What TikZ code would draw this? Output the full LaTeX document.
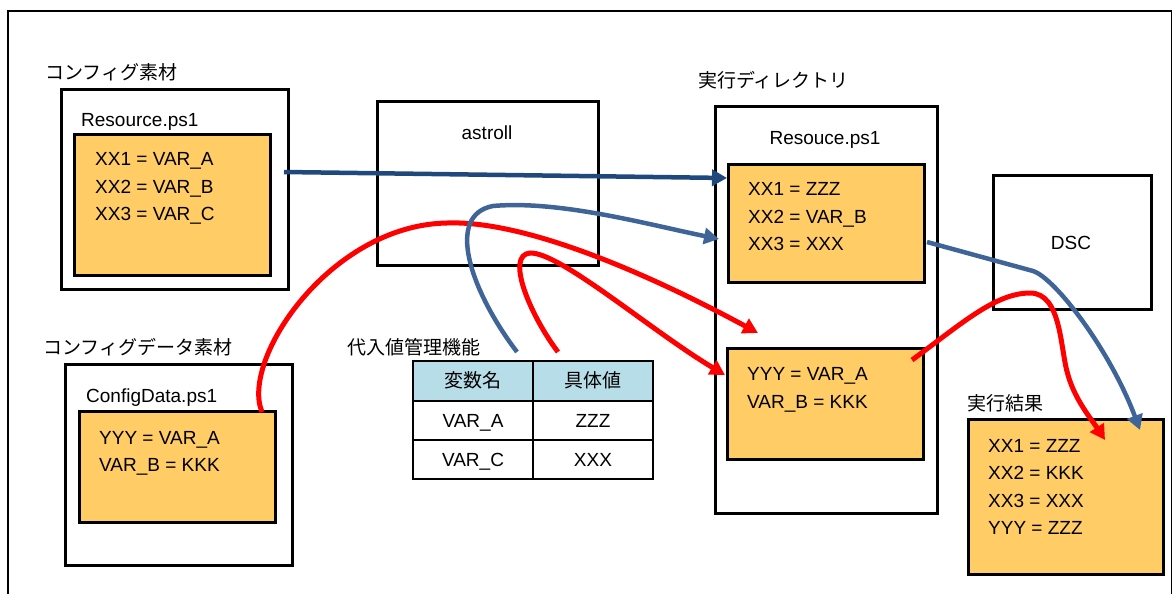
\documentclass[tikz,border=0pt]{standalone}
\usepackage{fontspec}
\setmainfont{Liberation Sans}
\newfontfamily\jpfont{Noto Sans CJK JP}
\usetikzlibrary{arrows.meta,calc,positioning}
\definecolor{paperorange}{HTML}{FFCC66}
\definecolor{headblue}{HTML}{B7DDE8}
\definecolor{darkblue}{HTML}{1F497D}
\definecolor{steelblue}{HTML}{3F6598}
\newcommand{\figfont}{\fontsize{19}{22}\selectfont}

\begin{document}
\begin{tikzpicture}[x=1pt,y=-1pt,
    box/.style={draw,line width=2.6pt,anchor=north west,inner sep=0pt},
    paper/.style={box,fill=paperorange},
    cell/.style={draw,line width=2.2pt,minimum width=120pt,minimum height=39pt,
        inner sep=0pt,outer sep=0pt,text height=13.6pt,text depth=0pt,font=\figfont},
    lbl/.style={anchor=base west,inner sep=0pt,font=\figfont},
    jlbl/.style={lbl,font=\figfont\jpfont},
    tip/.style={-{Triangle[length=15pt,width=16pt]}},
    blueline/.style={tip,draw=darkblue,line width=4.5pt},
    steelline/.style={tip,draw=steelblue,line width=4.5pt},
    redline/.style={tip,draw=red,line width=5pt}]
    \clip (0,0) rectangle (1172,594);
    \draw[line width=2pt] (8,11) rectangle (1172,610);

    % config material
    \node[jlbl] (cfglbl) at (45,79) {コンフィグ素材};
    \node[box,minimum width=227pt,minimum height=200pt] (cfgbox) at (60,88) {};
    \node[lbl] (cfgfile) at (81,126) {Resource.ps1};
    \node[paper,minimum width=196pt,minimum height=141pt] (cfgpaper) at (73,133) {};
    \node[lbl] (cfg1) at (95,165) {XX1 = VAR\_A};
    \node[lbl] (cfg2) at (95,193) {XX2 = VAR\_B};
    \node[lbl] (cfg3) at (95,220) {XX3 = VAR\_C};

    % config data material
    \node[jlbl] (datalbl) at (43,354) {コンフィグデータ素材};
    \node[box,minimum width=227pt,minimum height=201pt] (databox) at (64,363) {};
    \node[lbl] (datafile) at (86,402) {ConfigData.ps1};
    \node[paper,minimum width=196pt,minimum height=111pt] (datapaper) at (78,410) {};
    \node[lbl] (data1) at (99,444) {YYY = VAR\_A};
    \node[lbl] (data2) at (99,471) {VAR\_B = KKK};

    % astroll
    \node[box,minimum width=221pt,minimum height=164pt] (astroll) at (376,100) {};
    \node[lbl,anchor=base] (astrolllbl) at (487,139) {astroll};

    % value table
    \node[jlbl] (tbllbl) at (347,354) {代入値管理機能};
    \node[cell,fill=headblue,minimum height=40pt] (hd1) at (473,381) {\jpfont 変数名};
    \node[cell,fill=headblue,minimum height=40pt,right=0pt of hd1] (hd2) {\jpfont 具体値};
    \node[cell,below=0pt of hd1] (var1) {VAR\_A};
    \node[cell,below=0pt of hd2] (val1) {ZZZ};
    \node[cell,below=0pt of var1] (var2) {VAR\_C};
    \node[cell,below=0pt of val1] (val2) {XXX};

    % run directory
    \node[jlbl] (dirlbl) at (698,87) {実行ディレクトリ};
    \node[box,minimum width=222pt,minimum height=407pt] (dirbox) at (714,105) {};
    \node[lbl,anchor=base] (dirfile) at (825,144) {Resouce.ps1};
    \node[paper,minimum width=196pt,minimum height=118pt] (dirpaperA) at (727,163) {};
    \node[lbl] (dirA1) at (748,195) {XX1 = ZZZ};
    \node[lbl] (dirA2) at (748,223) {XX2 = VAR\_B};
    \node[lbl] (dirA3) at (748,250) {XX3 = XXX};
    \node[paper,minimum width=196pt,minimum height=111pt] (dirpaperB) at (726,347) {};
    \node[lbl] (dirB1) at (747,380) {YYY = VAR\_A};
    \node[lbl] (dirB2) at (747,408) {VAR\_B = KKK};

    % DSC and result
    \node[box,minimum width=158pt,minimum height=134pt] (dsc) at (992,174) {};
    \node[lbl,anchor=base] (dsclbl) at (1071,249) {DSC};
    \node[jlbl] (reslbl) at (967,410) {実行結果};
    \node[paper,minimum width=195pt,minimum height=155pt] (result) at (967,418) {};
    \node[lbl] (res1) at (988,452) {XX1 = ZZZ};
    \node[lbl] (res2) at (988,479) {XX2 = KKK};
    \node[lbl] (res3) at (988,507) {XX3 = XXX};
    \node[lbl] (res4) at (988,534) {YYY = ZZZ};

    % ends of the connectors
    \coordinate (cfgout) at (284,172);
    \coordinate (dirin1) at (727,178);
    \coordinate (valout1) at (517,352);
    \coordinate (dirin2) at (719,239);
    \coordinate (dirout) at (927,242);
    \coordinate (resin1) at (1140,430);
    \coordinate (dataout) at (262,412);
    \coordinate (dirin3) at (758,333);
    \coordinate (valout2) at (558,352);
    \coordinate (dirin4) at (725,375);
    \coordinate (dirout2) at (912,360);
    \coordinate (resin2) at (1105,440);

    % substitution (red)
    \draw[redline] (dataout) .. controls (240,360) and (330,225) .. (447,223)
        .. controls (530,220) and (660,280) .. (dirin3);
    \draw[redline] (valout2) .. controls (530,315) and (505,255) .. (530,253)
        .. controls (560,252) and (650,330) .. (dirin4);
    \draw[redline] (dirout2) .. controls (960,325) and (995,293) .. (1030,293)
        .. controls (1062,293) and (1060,350) .. (1068,375)
        .. controls (1075,400) and (1092,420) .. (resin2);

    % copy (blue)
    \draw[blueline] (cfgout) -- (dirin1);
    \draw[steelline] (valout1) .. controls (470,290) and (445,215) .. (493,206)
        .. controls (560,200) and (650,225) .. (dirin2);
    \draw[steelline] (dirout) -- (1033,271) .. controls (1055,278) and (1110,350) .. (resin1);
\end{tikzpicture}
\end{document}
